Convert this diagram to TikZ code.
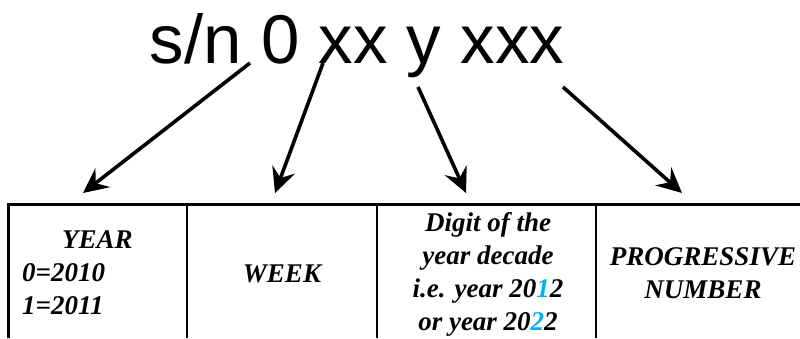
\documentclass[tikz,border=0pt]{standalone}
\usepackage{fontspec}
\setmainfont{Liberation Serif}
\newfontfamily\titulo{Liberation Sans}
\usepackage{xcolor}
\definecolor{celeste}{RGB}{0,176,240}
\usetikzlibrary{arrows.meta}

\begin{document}
\begin{tikzpicture}[
                x=1pt, y=-1pt,
                celda/.style={inner sep=0pt, font=\fontsize{27}{33}\selectfont\bfseries\itshape},
                flecha/.style={-{Stealth[length=25pt, width=24pt, inset=9pt]}, line width=3.6pt, black},
                linea/.style={line width=2.6pt, black}
            ]
            \useasboundingbox (0,0) rectangle (800,338);

            % serial number
            \node[anchor=base, inner sep=0pt, font=\titulo\fontsize{69}{69}\selectfont] (sn) at (357,63) {s/n 0 xx y xxx};

            % table
            \draw[linea, line width=3pt] (8,338) -- (8,204) -- (800,204);
            \foreach \xc in {187,377,596}
                \draw[linea] (\xc,204) -- (\xc,338);

            \node[celda, anchor=west, align=left] (year) at (22,273) {\hspace*{40pt}YEAR\\0=2010\\1=2011};
            \node[celda] (week) at (282,274) {WEEK};
            \node[celda, align=center] (digit) at (488,274)
                {Digit of the\\year decade\\i.e. year 20\textcolor{celeste}{1}2\\or year 20\textcolor{celeste}{2}2};
            \node[celda, align=center] (prog) at (703,273) {PROGRESSIVE\\NUMBER};

            % arrows from the digits down to the cells
            \coordinate (a1) at (250,63);  \coordinate (b1) at (83,193);
            \coordinate (a2) at (323,63);  \coordinate (b2) at (275,193);
            \coordinate (a3) at (418,87);  \coordinate (b3) at (466,193);
            \coordinate (a4) at (563,87);  \coordinate (b4) at (682,193);
            \foreach \i in {1,...,4}
                \draw[flecha] (a\i) -- (b\i);
        \end{tikzpicture}
\end{document}
